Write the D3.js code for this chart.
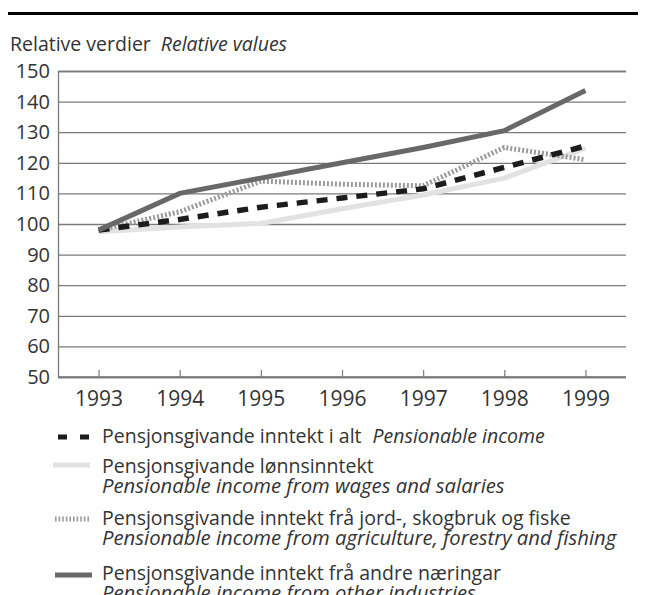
<!DOCTYPE html>
<html>
  <head>
    <title>Pensjonsgivande inntekt</title>
    <script type="text/javascript" src="https://cdn.jsdelivr.net/npm/d3@7"></script>
    <style type="text/css">
      body {
        margin: 0;
        background: #fff;
      }
      text {
        font-family: "Open Sans", "Noto Sans", sans-serif;
        fill: #333;
      }
    </style>
  </head>
  <body>
  </body>
  <script type="text/javascript">

  var years = ['1993', '1994', '1995', '1996', '1997', '1998', '1999']
  var yTicks = [50, 60, 70, 80, 90, 100, 110, 120, 130, 140, 150]

  // relative values
  var total = [98, 101.5, 105.5, 108.5, 111.5, 118.5, 125.5]
  var wages = [97.5, 99, 100.2, 105, 109.5, 115, 124.8]
  var agri = [98, 104, 114, 113, 112.5, 125, 121]
  var other = [98, 110, 115, 120, 125, 130.5, 143.6]

  var seriesNames = [
    ['Pensjonsgivande inntekt i alt', 'Pensionable income'],
    ['Pensjonsgivande lønnsinntekt', 'Pensionable income from wages and salaries'],
    ['Pensjonsgivande inntekt frå jord-, skogbruk og fiske', 'Pensionable income from agriculture, forestry and fishing'],
    ['Pensjonsgivande inntekt frå andre næringar', 'Pensionable income from other industries']
  ]

  var styles = [
    { color: '#1c1c1c', width: 5.5, dash: '11,9', legendDash: '9,13' },
    { color: '#e2e2e2', width: 5, dash: null, legendDash: null },
    { color: '#9a9a9a', width: 5, dash: '2,2', legendDash: '1.6,2' },
    { color: '#686868', width: 5, dash: null, legendDash: null }
  ]
  var data = [total, wages, agri, other]
  // draw order: light first, then dotted, dashed, dark on top
  var drawOrder = [1, 2, 0, 3]

  var svg = d3.select('body')
    .append('svg')
      .attr('width', 648)
      .attr('height', 595)

  var x = d3.scalePoint().domain(years).range([58, 626]).padding(0.5)
  var y = d3.scaleLinear().domain([50, 150]).range([377, 71])

  // top rule
  svg.append('line')
    .attr('x1', 8).attr('x2', 638)
    .attr('y1', 13.5).attr('y2', 13.5)
    .attr('stroke', '#000').attr('stroke-width', 3)

  svg.append('text')
    .attr('x', 10).attr('y', 51)
    .style('font-size', '19.5px')
    .text('Relative verdier')
    .append('tspan')
      .attr('dx', 10)
      .style('font-style', 'italic')
      .text('Relative values')

  // gridlines + y axis
  var yAxis = d3.axisLeft(y).tickValues(yTicks).tickSize(-568).tickPadding(8)
  var gy = svg.append('g').attr('transform', 'translate(58,0)').call(yAxis)
  gy.select('.domain').attr('stroke', '#7a7a7a').attr('stroke-width', 1.3)
  gy.selectAll('.tick line').attr('stroke', '#7a7a7a').attr('stroke-width', 1.3)
  gy.selectAll('.tick text')
    .style('font-size', '20px')
    .style('font-family', '"Open Sans", "Noto Sans", sans-serif')
    .attr('fill', '#333')

  // x axis with short upward ticks
  var xAxis = d3.axisBottom(x).tickSizeInner(-7).tickSizeOuter(0).tickPadding(14)
  var gx = svg.append('g').attr('transform', 'translate(0,377)').call(xAxis)
  gx.select('.domain').attr('stroke', '#7a7a7a').attr('stroke-width', 1.3)
    .attr('d', 'M58,0H626')
  gx.selectAll('.tick line').attr('stroke', '#7a7a7a').attr('stroke-width', 1.2)
  gx.selectAll('.tick text')
    .style('font-size', '21px')
    .style('font-family', '"Open Sans", "Noto Sans", sans-serif')
    .attr('fill', '#333')

  var line = d3.line()
    .x(function(d, i) { return x(years[i]); })
    .y(function(d) { return y(d); })

  svg.selectAll('path.series').data(drawOrder)
    .enter().append('path')
      .attr('class', 'series')
      .attr('d', function(k) { return line(data[k]); })
      .attr('fill', 'none')
      .attr('stroke', function(k) { return styles[k].color; })
      .attr('stroke-width', function(k) { return styles[k].width; })
      .attr('stroke-dasharray', function(k) { return styles[k].dash; })

  // legend
  var legendRows = [
    { sy: 437, base: [443] },
    { sy: 465, base: [473, 493] },
    { sy: 519, base: [525, 545] },
    { sy: 575, base: [580, 600] }
  ]
  var swatchX = [[58, 90], [53, 90], [55, 90], [55, 92]]

  var lg = svg.selectAll('g.legend').data(legendRows)
    .enter().append('g')
      .attr('class', 'legend')

  lg.append('line')
    .attr('x1', function(d, i) { return swatchX[i][0]; })
    .attr('x2', function(d, i) { return swatchX[i][1]; })
    .attr('y1', function(d) { return d.sy; })
    .attr('y2', function(d) { return d.sy; })
    .attr('stroke', function(d, i) { return styles[i].color; })
    .attr('stroke-width', function(d, i) { return i == 0 ? 5 : styles[i].width; })
    .attr('stroke-dasharray', function(d, i) { return styles[i].legendDash; })

  lg.each(function(d, i) {
    var g = d3.select(this)
    if (d.base.length == 1) {
      var t = g.append('text')
        .attr('x', 102).attr('y', d.base[0])
        .style('font-size', '19.5px')
        .text(seriesNames[i][0])
      t.append('tspan')
        .attr('dx', 11)
        .style('font-style', 'italic')
        .text(seriesNames[i][1])
    } else {
      g.append('text')
        .attr('x', 102).attr('y', d.base[0])
        .style('font-size', '19.5px')
        .text(seriesNames[i][0])
      g.append('text')
        .attr('x', 102).attr('y', d.base[1])
        .style('font-size', '20.3px')
        .style('font-style', 'italic')
        .text(seriesNames[i][1])
    }
  })

  </script>
</html>
